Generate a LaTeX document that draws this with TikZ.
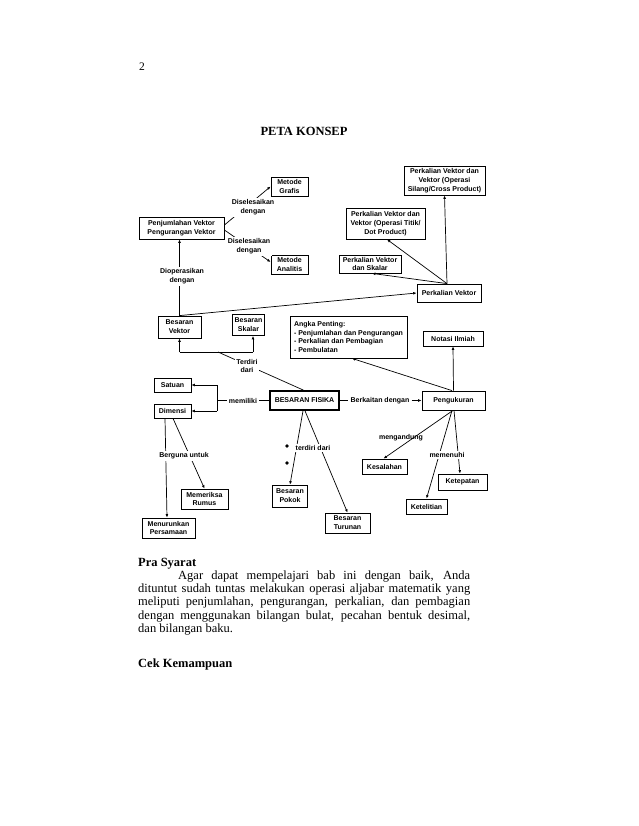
\documentclass[tikz,border=0pt]{standalone}
\usepackage{fontspec}
\setmainfont{Liberation Serif}
\newfontfamily\dfont{Liberation Sans}
\usetikzlibrary{arrows.meta}
\begin{document}
\begin{tikzpicture}[x=1pt,y=-1pt,
  dtext/.style={font=\dfont\bfseries\fontsize{7}{8.8}\selectfont},
  box/.style={dtext, draw, line width=0.8pt, inner sep=0pt, align=center},
  lab/.style={dtext, inner sep=1.5pt, align=center},
  wlab/.style={lab, fill=white},
  con/.style={line width=0.7pt},
  arr/.style={con, -{Latex[length=3.4pt,width=2.8pt]}},
  body/.style={inner sep=0pt, anchor=base west, font=\fontsize{12.5}{13.3}\selectfont},
  bullet/.style={circle, fill, inner sep=0pt, minimum size=3.6pt}
]
\useasboundingbox (0,0) rectangle (638,826);

% header
\node[inner sep=0pt, anchor=base west, font=\fontsize{11.5}{13}\selectfont] (pnum) at (139,71) {2};
\node[inner sep=0pt, anchor=base, font=\bfseries\fontsize{12.5}{14}\selectfont] (title) at (304,136) {PETA KONSEP};

% boxes
\node[box, minimum width=37pt, minimum height=19pt] (grafis) at (289.5,186.5) {Metode\\Grafis};
\node[box, minimum width=37pt, minimum height=19pt] (analitis) at (289.5,264.5) {Metode\\Analitis};
\node[box, minimum width=85pt, minimum height=22pt] (pj) at (181.5,228) {Penjumlahan Vektor\\Pengurangan Vektor};
\node[box, minimum width=81pt, minimum height=29pt] (cross) at (444.5,180.5) {Perkalian Vektor dan\\Vektor (Operasi\\Silang/Cross Product)};
\node[box, minimum width=79pt, minimum height=31pt] (dot) at (385.5,223.5) {Perkalian Vektor dan\\Vektor (Operasi Titik/\\Dot Product)};
\node[box, minimum width=62pt, minimum height=18pt] (skalar) at (370,264) {Perkalian Vektor\\dan Skalar};
\node[box, minimum width=64pt, minimum height=18pt] (pv) at (449,293) {Perkalian Vektor};
\node[box, minimum width=43pt, minimum height=22pt] (bv) at (179.5,327) {Besaran\\Vektor};
\node[box, minimum width=32pt, minimum height=21pt] (bs) at (248.5,325) {Besaran\\Skalar};
\node[box, minimum width=117pt, minimum height=42pt, align=left] (angka) at (348.5,337) {Angka Penting:\\- Penjumlahan dan Pengurangan\\- Perkalian dan Pembagian\\- Pembulatan};
\node[box, minimum width=60pt, minimum height=15pt] (notasi) at (453,338.5) {Notasi Ilmiah};
\node[box, line width=1.7pt, minimum width=69pt, minimum height=19pt] (bf) at (304.5,400.5) {BESARAN FISIKA};
\node[box, minimum width=63pt, minimum height=19pt] (peng) at (453.5,400.5) {Pengukuran};
\node[box, minimum width=37pt, minimum height=14pt] (satuan) at (172.5,385) {Satuan};
\node[box, minimum width=37pt, minimum height=14pt] (dimensi) at (172.5,411) {Dimensi};
\node[box, minimum width=47pt, minimum height=20pt] (memeriksa) at (204.5,499) {Memeriksa\\Rumus};
\node[box, minimum width=53pt, minimum height=20pt] (menurunkan) at (168.5,528) {Menurunkan\\Persamaan};
\node[box, minimum width=35pt, minimum height=22pt] (pokok) at (290,496) {Besaran\\Pokok};
\node[box, minimum width=45pt, minimum height=20pt] (turunan) at (347.5,523) {Besaran\\Turunan};
\node[box, minimum width=45pt, minimum height=15pt] (kesalahan) at (384.5,466.5) {Kesalahan};
\node[box, minimum width=49pt, minimum height=16pt] (ketepatan) at (462.5,482) {Ketepatan};
\node[box, minimum width=41pt, minimum height=15pt] (ketelitian) at (426.5,506.5) {Ketelitian};

% labels that connectors end on
\node[lab, inner sep=2pt] (l5) at (243,400.5) {memiliki};
\node[lab, inner sep=2pt] (l6) at (380,400.5) {Berkaitan dengan};

% coordinates
\coordinate (jL) at (179.5,352);
\coordinate (jR) at (253,352);
\coordinate (jM) at (218,352);
\coordinate (mA) at (217,400.5);
\coordinate (mT) at (217,385);
\coordinate (mB) at (217,411);

% connectors
\draw[arr] ([yshift=3pt]pj.east) -- (grafis.west);
\draw[arr] ([yshift=-2pt]pj.east) -- ([yshift=2.5pt]analitis.west);
\draw[arr] (bv.north) -- (bv.north |- pj.south);
\draw[arr] (bv.north) -- (pv.west);
\draw[arr] ([xshift=-2pt]pv.north) -- (cross.south);
\draw[arr] ([xshift=-2pt]pv.north) -- ([xshift=1.5pt]dot.south);
\draw[arr] ([xshift=-2pt]pv.north) -- ([xshift=2pt]skalar.south);

\draw[con] ([xshift=-1pt]bf.north) -- (jM);
\draw[con] (jL) -- (jR);
\draw[arr] (jL) -- (bv.south);
\draw[arr] (jR) -- (jR |- bs.south);

\draw[con] (bf.west) -- (l5) -- (mA);
\draw[con] (mT) -- (mB);
\draw[arr] (mT) -- (satuan.east);
\draw[arr] (mB) -- (dimensi.east);

\draw[con] (bf.east) -- (l6);
\draw[arr] (l6) -- (peng.west);
\draw[arr] (peng.north) -- (notasi.south);
\draw[arr] ([xshift=-1.5pt]peng.north) -- ([xshift=3.5pt]angka.south);

\draw[arr] ([xshift=-1.5pt]bf.south) -- (pokok.north);
\draw[arr] ([xshift=0.5pt]bf.south) -- (turunan.north);

\draw[arr] ([xshift=-7.5pt]dimensi.south) -- ([xshift=-1.5pt]menurunkan.north);
\draw[arr] ([xshift=0.5pt]dimensi.south) -- (memeriksa.north);

\draw[arr] ([xshift=-0.5pt]peng.south) -- ([xshift=-1pt]kesalahan.north);
\draw[arr] ([xshift=-1.5pt]peng.south) -- (ketelitian.north);
\draw[arr] ([xshift=0.5pt]peng.south) -- ([xshift=-2.5pt]ketepatan.north);

% labels lying over connectors
\node[wlab] (l1) at (253,207.5) {Diselesaikan\\dengan};
\node[wlab] (l2) at (249,246.5) {Diselesaikan\\dengan};
\node[wlab] (l3) at (182,276.5) {Dioperasikan\\dengan};
\node[wlab] (l4) at (247,366) {Terdiri\\dari};
\node[wlab] (l7) at (184,456) {Berguna untuk};
\node[wlab, anchor=west] (l8) at (294,448) {terdiri dari};
\node[lab, inner sep=0pt] (l9) at (401,438) {mengandung};
\node[wlab] (l10) at (447,455) {memenuhi};
\node[bullet] (b1) at (287,446) {};
\node[bullet] (b2) at (287,463) {};

% body text
\node[body, font=\bfseries\fontsize{12.5}{13.3}\selectfont] (pra) at (138,566) {Pra Syarat};
\node[body] (p1) at (138,579.3) {\hbox to 332pt{\hspace*{40pt}Agar dapat mempelajari bab ini dengan baik, Anda}};
\node[body] (p2) at (138,592.6) {\hbox to 332pt{dituntut sudah tuntas melakukan operasi aljabar matematik yang}};
\node[body] (p3) at (138,605.9) {\hbox to 332pt{meliputi penjumlahan, pengurangan, perkalian, dan pembagian}};
\node[body] (p4) at (138,619.2) {\hbox to 332pt{dengan menggunakan bilangan bulat, pecahan bentuk desimal,}};
\node[body] (p5) at (138,632.5) {dan bilangan baku.};
\node[body, font=\bfseries\fontsize{12.5}{13.3}\selectfont] (cek) at (138,667) {Cek Kemampuan};
\end{tikzpicture}
\end{document}
